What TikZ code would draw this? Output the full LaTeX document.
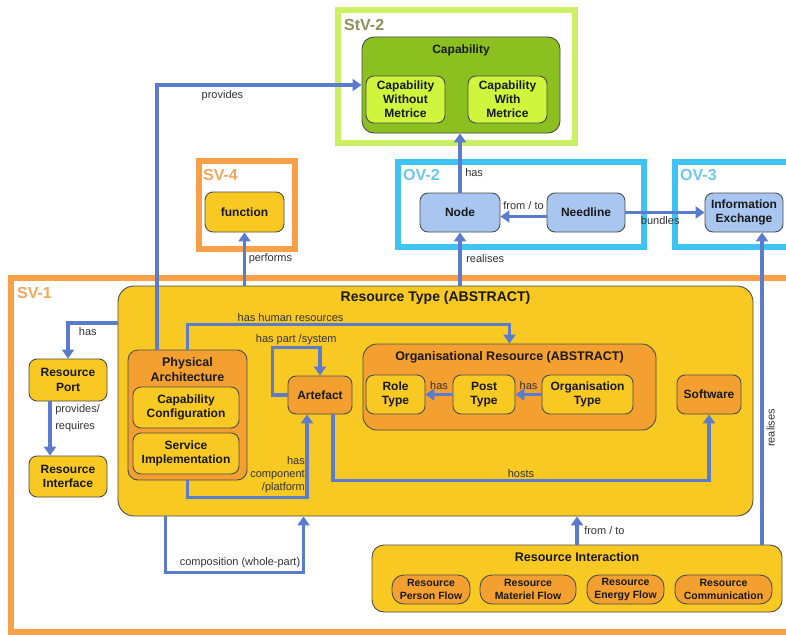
\documentclass[tikz,border=0pt]{standalone}
\usepackage{fontspec}
\setmainfont{Liberation Sans}
\usetikzlibrary{arrows.meta}
\definecolor{ylw}{HTML}{F8C823}
\definecolor{orn}{HTML}{F4A030}
\definecolor{frameorn}{HTML}{F7A048}
\definecolor{lblorn}{HTML}{F2A85E}
\definecolor{grn}{HTML}{8CC021}
\definecolor{lgrn}{HTML}{CFF53C}
\definecolor{stvgrn}{HTML}{CCF064}
\definecolor{stvlbl}{HTML}{8E9058}
\definecolor{cyanf}{HTML}{3EC3F2}
\definecolor{cyanlbl}{HTML}{6CC8EA}
\definecolor{lblue}{HTML}{A8C6EF}
\definecolor{arr}{HTML}{5B7BCF}
\begin{document}
\begin{tikzpicture}[x=1pt,y=-1pt,
  box/.style={draw=black!70, line width=0.9pt, rounded corners=8pt, align=center, inner sep=1pt,
    font=\bfseries\fontsize{12}{14.5}\selectfont, text=black!90},
  pill/.style={box, rounded corners=12pt, fill=orn, font=\bfseries\fontsize{10.5}{13}\selectfont, minimum height=29pt},
  frm/.style={draw, line width=6pt, inner sep=0pt},
  frmlbl/.style={font=\bfseries\fontsize{16}{16}\selectfont, anchor=west, inner sep=0pt},
  ttl/.style={font=\bfseries\fontsize{12.5}{15}\selectfont, align=center, inner sep=0pt, text=black!90},
  rel/.style={draw=arr, line width=3.5pt, -{Triangle[width=12pt,length=9pt]}},
  lbl/.style={font=\fontsize{11}{13}\selectfont, text=black!80, inner sep=1.5pt},
  ]
\useasboundingbox (0,0) rectangle (786,634);
\fill[white] (0,0) rectangle (786,634);

% ---------- frames ----------
\node[frm, draw=stvgrn, minimum width=237pt, minimum height=133pt] (stv2) at (456.5,76.5) {};
\node[frmlbl, text=stvlbl] (stv2l) at (344,25) {StV-2};
\node[frm, draw=frameorn, minimum width=96pt, minimum height=87.5pt] (sv4) at (246.5,204.75) {};
\node[frmlbl, text=lblorn] (sv4l) at (203,175) {SV-4};
\node[frm, draw=cyanf, minimum width=245.5pt, minimum height=85pt] (ov2) at (520.75,204) {};
\node[frmlbl, text=cyanlbl] (ov2l) at (403,175) {OV-2};
\node[frm, draw=cyanf, minimum width=125pt, minimum height=85pt] (ov3) at (737.5,204) {};
\node[frmlbl, text=cyanlbl] (ov3l) at (680,175) {OV-3};
\node[frm, draw=frameorn, minimum width=789.5pt, minimum height=354pt] (sv1) at (405.25,454.5) {};
\node[frmlbl, text=lblorn] (sv1l) at (17,293) {SV-1};

% ---------- StV-2 ----------
\node[box, fill=grn, rounded corners=12pt, minimum width=198pt, minimum height=96pt] (cap) at (461,85) {};
\node[ttl, font=\bfseries\fontsize{12}{15}\selectfont] (capt) at (461,50) {Capability};
\node[box, fill=lgrn, minimum width=79pt, minimum height=47pt, font=\bfseries\fontsize{12}{14}\selectfont] (cwo) at (405.5,99.5) {Capability\\Without\\Metrice};
\node[box, fill=lgrn, minimum width=79pt, minimum height=47pt, font=\bfseries\fontsize{12}{14}\selectfont] (cw) at (507.5,99.5) {Capability\\With\\Metrice};

% ---------- SV-4 / OV-2 / OV-3 ----------
\node[box, fill=ylw, minimum width=79pt, minimum height=40pt] (func) at (244.5,212) {function};
\node[box, fill=lblue, minimum width=80pt, minimum height=39pt] (nd) at (460,212.5) {Node};
\node[box, fill=lblue, minimum width=78pt, minimum height=39pt] (need) at (586,212.5) {Needline};
\node[box, fill=lblue, minimum width=78pt, minimum height=39pt] (ie) at (744,212.5) {Information\\Exchange};

% ---------- SV-1 ----------
\node[box, fill=ylw, rounded corners=16pt, minimum width=635pt, minimum height=230pt] (rt) at (435.5,401) {};
\node[ttl, font=\bfseries\fontsize{14}{16}\selectfont] (rtt) at (435.5,298) {Resource Type (ABSTRACT)};
\node[box, fill=ylw, minimum width=78pt, minimum height=42pt] (rport) at (68,380) {Resource\\Port};
\node[box, fill=ylw, minimum width=78pt, minimum height=41pt] (rif) at (68,476.5) {Resource\\Interface};
\node[box, fill=orn, rounded corners=10pt, minimum width=119pt, minimum height=130pt] (pa) at (187.5,415) {};
\node[ttl] (pat) at (187.5,370) {Physical\\Architecture};
\node[box, fill=ylw, minimum width=106pt, minimum height=41pt] (cc) at (186,407.5) {Capability\\Configuration};
\node[box, fill=ylw, minimum width=106pt, minimum height=41pt] (si) at (186,453.5) {Service\\Implementation};
\node[box, fill=orn, minimum width=64pt, minimum height=38pt] (art) at (320,395) {Artefact};
\node[box, fill=orn, rounded corners=14pt, minimum width=293pt, minimum height=86pt] (org) at (509.5,387) {};
\node[ttl] (orgt) at (509.5,357) {Organisational Resource (ABSTRACT)};
\node[box, fill=ylw, minimum width=59pt, minimum height=39pt] (role) at (395.5,394.5) {Role\\Type};
\node[box, fill=ylw, minimum width=62pt, minimum height=39pt] (post) at (484,394.5) {Post\\Type};
\node[box, fill=ylw, minimum width=91pt, minimum height=39pt] (orgty) at (587.5,394.5) {Organisation\\Type};
\node[box, fill=orn, minimum width=64pt, minimum height=39pt] (sw) at (709,394.5) {Software};

% ---------- Resource Interaction ----------
\node[box, fill=ylw, rounded corners=12pt, minimum width=410pt, minimum height=67pt] (ri) at (577,578.5) {};
\node[ttl] (rit) at (577,557) {Resource Interaction};
\node[pill, minimum width=78pt] (pf) at (431,589.5) {Resource\\Person Flow};
\node[pill, minimum width=96pt] (mf) at (528,589.5) {Resource\\Materiel Flow};
\node[pill, minimum width=77pt] (ef) at (625.5,589.5) {Resource\\Energy Flow};
\node[pill, minimum width=97pt] (com) at (723.5,589.5) {Resource\\Communication};

\coordinate (rzx) at (762,0);

% ---------- connectors ----------
\draw[rel] ([xshift=-30.5pt]pa.north) |- node[lbl, pos=0.66, below=2pt] {provides} (cap.west);
\draw[rel] (nd.north) -- node[lbl, pos=0.33, right=2pt] {has} (nd.north |- cap.south);
\draw[rel] ([yshift=-4pt]need.west) -- node[lbl, midway, above=4pt] {from / to} ([yshift=-4pt]nd.east);
\draw[rel] (need.east) -- node[lbl, pos=0.44, yshift=-8pt] {bundles} (ie.west);
\draw[rel] (rt.north -| nd.south) -- node[lbl, midway, right=3pt] {realises} (nd.south);
\draw[rel] (rt.north -| func.south) -- node[lbl, midway, right=1pt] {performs} (func.south);
\draw[rel] (ri.north -| rzx) -- node[lbl, pos=0.374, rotate=90, anchor=north, inner sep=3pt] {realises} (ie.south -| rzx);
\draw[rel] ([yshift=78pt]rt.west) -| node[lbl, pos=0.3, below=1pt] {has} (rport.north);
\draw[rel] ([xshift=-18pt]rport.south) -- node[lbl, pos=0.3, right=2pt, align=left, font=\fontsize{11}{17}\selectfont] {provides/\\requires} ([xshift=-18pt]rif.north);
\draw[rel] (pa.north) -- ++(0,-25) -| node[lbl, pos=0.16, above=0pt] {has human resources} (org.north);
\draw[rel] (art.west) -- ++(-15,0) |- node[lbl, pos=0.75, above=0pt] {has part /system} ([yshift=28pt]art.north) -- (art.north);
\draw[rel] (pa.south) -- ++(0,17) -| node[lbl, pos=0.64, left=-1pt, align=right] {has\\component\\/platform} ([xshift=-13pt]art.south);
\draw[rel] ([xshift=13pt]art.south) -- ++(0,66) -| node[lbl, pos=0.25, above=0pt] {hosts} (sw.south);
\draw[rel] (post.west) -- node[lbl, midway, above=2pt] {has} (role.east);
\draw[rel] (orgty.west) -- node[lbl, midway, above=2pt] {has} (post.east);
\draw[rel] ([xshift=-270pt]rt.south) -- ++(0,56) -| node[lbl, pos=0.27, above=1pt] {composition (whole-part)} ([xshift=-132pt]rt.south);
\draw[rel] (ri.north) -- node[lbl, midway, right=4pt] {from / to} (ri.north |- rt.south);
\end{tikzpicture}
\end{document}
